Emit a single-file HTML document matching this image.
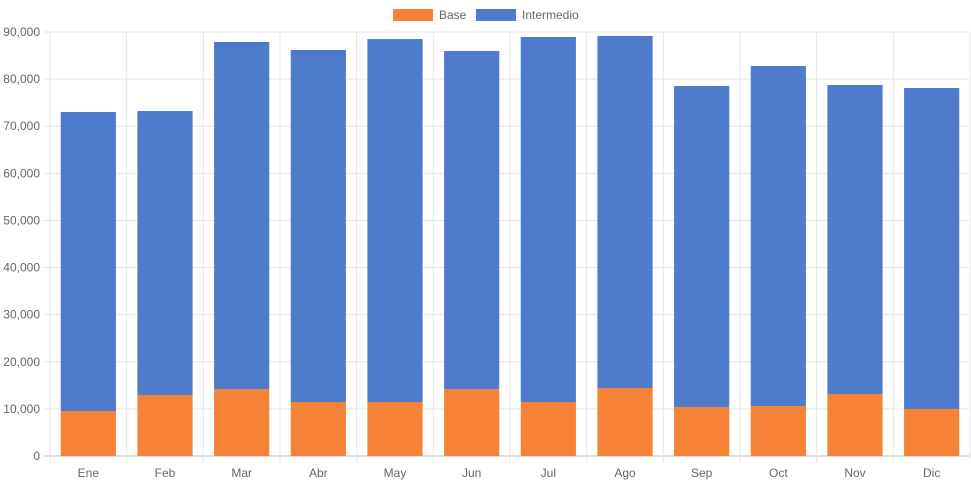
<!DOCTYPE html>
<html><head><meta charset="utf-8"><style>
body{margin:0;background:#fff;font-family:"Liberation Sans",sans-serif;}
svg text{font-family:"Liberation Sans",sans-serif;font-size:12px;fill:#666;}
</style></head><body>
<svg id="c" width="971" height="485"></svg>
<script>
const categories=["Ene","Feb","Mar","Abr","May","Jun","Jul","Ago","Sep","Oct","Nov","Dic"];
const baseValues=[9550,12950,14200,11460,11460,14200,11460,14430,10400,10600,13160,9980];
const intermedioValues=[63470,60280,73680,74720,77050,71770,77480,74720,68140,72180,65590,68130];
const yTicks=[0,10000,20000,30000,40000,50000,60000,70000,80000,90000];
const yMax=90000;
const L=50,R=970,T=32,B=456;
const svg=document.getElementById('c');
const NS='http://www.w3.org/2000/svg';
function el(t,a){const e=document.createElementNS(NS,t);for(const k in a)e.setAttribute(k,a[k]);svg.appendChild(e);return e;}
const y=v=>B-(v/yMax)*(B-T);
const bw=(R-L)/categories.length;
const x=i=>L+i*bw;
yTicks.forEach(t=>{
 const g=el('line',{x1:L-6,x2:R,y1:y(t),y2:y(t),stroke:t===0?'#bbb':'#e5e5e5'});
 
 const tx=el('text',{x:L-10,y:y(t)+4,'text-anchor':'end'});tx.textContent=t.toLocaleString('en-US');
 
});
for(let i=0;i<=categories.length;i++){
 const g=el('line',{x1:x(i),x2:x(i),y1:T,y2:B+7,stroke:'#e5e5e5'});
 
}
categories.forEach((c,i)=>{
 const cx=x(i)+bw/2,w=bw*0.72;
 const b=el('rect',{x:cx-w/2,y:y(baseValues[i]),width:w,height:B-y(baseValues[i]),fill:'#f58236'});
 
 const tot=baseValues[i]+intermedioValues[i];
 const m=el('rect',{x:cx-w/2,y:y(tot),width:w,height:y(baseValues[i])-y(tot),fill:'#4f7bcc'});
 
 const tx=el('text',{x:cx,y:477,'text-anchor':'middle'});tx.textContent=c;
 
});
const lg=[["Base","#f58236",393],["Intermedio","#4f7bcc",476]];
lg.forEach(([n,col,lx])=>{
 const r=el('rect',{x:lx,y:9,width:40,height:12,fill:col});
 
 const t=el('text',{x:lx+46,y:19});t.textContent=n;
 
});
</script>
</body></html>
